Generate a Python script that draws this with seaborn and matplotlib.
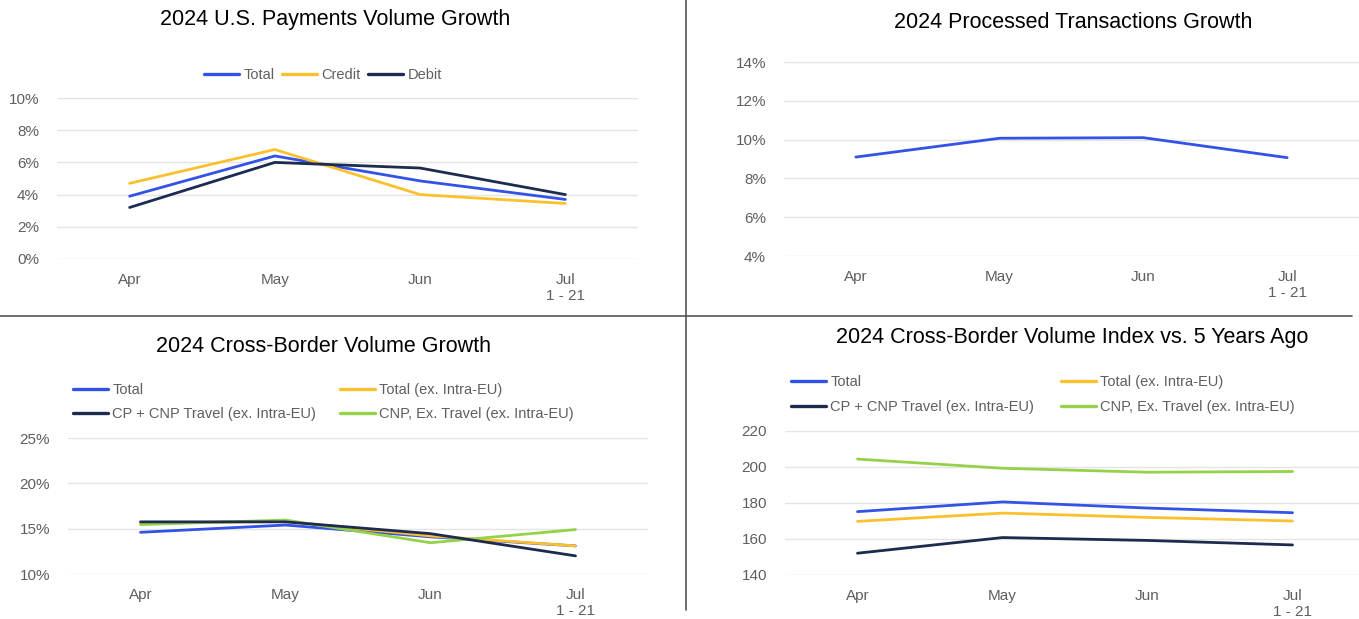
import numpy as np
import pandas as pd
import matplotlib
matplotlib.use("Agg")
import matplotlib.pyplot as plt
from matplotlib.ticker import FuncFormatter
from matplotlib.lines import Line2D
import seaborn as sns

# data
months = ["Apr", "May", "Jun", "Jul\n1 - 21"]

pay_total = [3.9, 6.4, 4.85, 3.7]
pay_credit = [4.7, 6.8, 4.0, 3.45]
pay_debit = [3.2, 6.0, 5.65, 4.0]

proc_total = [9.1, 10.07, 10.1, 9.07]

xb_total = [14.6, 15.4, 14.1, 13.1]
xb_total_ex = [15.6, 15.8, 14.2, 13.1]
xb_cp_travel = [15.75, 15.75, 14.45, 12.0]
xb_cnp_ex_travel = [15.45, 15.95, 13.45, 14.9]

idx_total = [175.2, 180.6, 177.2, 174.6]
idx_total_ex = [169.8, 174.4, 172.0, 170.0]
idx_cp_travel = [152.1, 160.8, 159.2, 156.7]
idx_cnp_ex_travel = [204.4, 199.3, 197.1, 197.5]

BLUE = "#3352e6"
YELLOW = "#fbc02d"
NAVY = "#1c2b4f"
GREEN = "#95d14a"
GRAY = "#5f5f5f"

sns.set_theme(style="white")
plt.rcParams["font.family"] = ["Liberation Sans", "DejaVu Sans"]

W, H = 1359, 619
fig = plt.figure(figsize=(W / 100, H / 100), dpi=100)


def px_axes(left, right, top, bottom):
    return fig.add_axes([left / W, 1 - bottom / H, (right - left) / W, (bottom - top) / H])


def style(ax, ylim, step, fmt):
    ax.set_xlim(-0.5, 3.5)
    ax.set_ylim(*ylim)
    ax.set_yticks(np.arange(ylim[0], ylim[1] + 0.01, step))
    ax.yaxis.set_major_formatter(FuncFormatter(fmt))
    ax.set_xticks(range(len(months)))
    ax.set_xticklabels(months, linespacing=1.15)
    ax.grid(axis="y", color="#e4e4e4", linewidth=1)
    ax.grid(axis="x", visible=False)
    for s in ax.spines.values():
        s.set_visible(False)
    ax.tick_params(axis="both", length=0, colors=GRAY, labelsize=11)
    ax.tick_params(axis="y", pad=13)
    ax.tick_params(axis="x", pad=10)
    ax.set_xlabel("")
    ax.set_ylabel("")


def draw(ax, series):
    for vals, color in series:
        sns.lineplot(x=list(range(len(months))), y=vals, color=color, linewidth=2.0, ax=ax)


pct = lambda v, p: f"{v:.0f}%"
num = lambda v, p: f"{v:.0f}"

TITLE_SIZE = 15.5

# top left
ax1 = px_axes(57, 638, 98, 259)
draw(ax1, [(pay_total, BLUE), (pay_credit, YELLOW), (pay_debit, NAVY)])
style(ax1, (0, 10), 2, pct)
h1 = [Line2D([], [], color=c, lw=2.4) for c in (BLUE, YELLOW, NAVY)]
ax1.legend(h1, ["Total", "Credit", "Debit"], loc="center",
           bbox_to_anchor=(323 / W, 1 - 75 / H), bbox_transform=fig.transFigure,
           ncol=3, frameon=False, fontsize=10.5, handlelength=2.4,
           handletextpad=0.3, columnspacing=0.5, labelcolor=GRAY)
fig.text(335 / W, 1 - 20 / H, "2024 U.S. Payments Volume Growth",
         ha="center", va="center", fontsize=TITLE_SIZE, color="black")

# top right
ax2 = px_axes(784, 1359, 62, 256)
draw(ax2, [(proc_total, BLUE)])
style(ax2, (4, 14), 2, pct)
fig.text(1073 / W, 1 - 23 / H, "2024 Processed Transactions Growth",
         ha="center", va="center", fontsize=TITLE_SIZE, color="black")

# bottom left
labels4 = ["Total", "CP + CNP Travel (ex. Intra-EU)",
           "Total (ex. Intra-EU)", "CNP, Ex. Travel (ex. Intra-EU)"]
colors4 = [BLUE, NAVY, YELLOW, GREEN]
h4 = [Line2D([], [], color=c, lw=2.4) for c in colors4]

ax3 = px_axes(68, 648, 438, 574)
draw(ax3, [(xb_total, BLUE), (xb_total_ex, YELLOW),
           (xb_cnp_ex_travel, GREEN), (xb_cp_travel, NAVY)])
style(ax3, (10, 25), 5, pct)
ax3.legend(h4, labels4, loc="upper left",
           bbox_to_anchor=(73 / W, 1 - 383 / H), bbox_transform=fig.transFigure,
           ncol=2, frameon=False, fontsize=10.5, handlelength=2.4,
           handletextpad=0.3, columnspacing=1.6, labelspacing=0.7,
           borderpad=0, borderaxespad=0, labelcolor=GRAY)
fig.text(323 / W, 1 - 347 / H, "2024 Cross-Border Volume Growth",
         ha="center", va="center", fontsize=TITLE_SIZE, color="black")

# bottom right
ax4 = px_axes(785, 1365, 431, 575)
draw(ax4, [(idx_cnp_ex_travel, GREEN), (idx_total, BLUE),
           (idx_total_ex, YELLOW), (idx_cp_travel, NAVY)])
style(ax4, (140, 220), 20, num)
ax4.legend(h4, labels4, loc="upper left",
           bbox_to_anchor=(791 / W, 1 - 375 / H), bbox_transform=fig.transFigure,
           ncol=2, frameon=False, fontsize=10.5, handlelength=2.4,
           handletextpad=0.3, columnspacing=1.8, labelspacing=0.75,
           borderpad=0, borderaxespad=0, labelcolor=GRAY)
fig.text(1072 / W, 1 - 338 / H, "2024 Cross-Border Volume Index vs. 5 Years Ago",
         ha="center", va="center", fontsize=TITLE_SIZE, color="black")

# panel dividers
fig.add_artist(Line2D([686 / W, 686 / W], [1 - 610 / H, 1.0],
                      transform=fig.transFigure, color="#555555", lw=1.2))
fig.add_artist(Line2D([0, 1352 / W], [1 - 316 / H, 1 - 316 / H],
                      transform=fig.transFigure, color="#555555", lw=1.2))

fig.savefig("out.png", dpi=100, facecolor="white")
